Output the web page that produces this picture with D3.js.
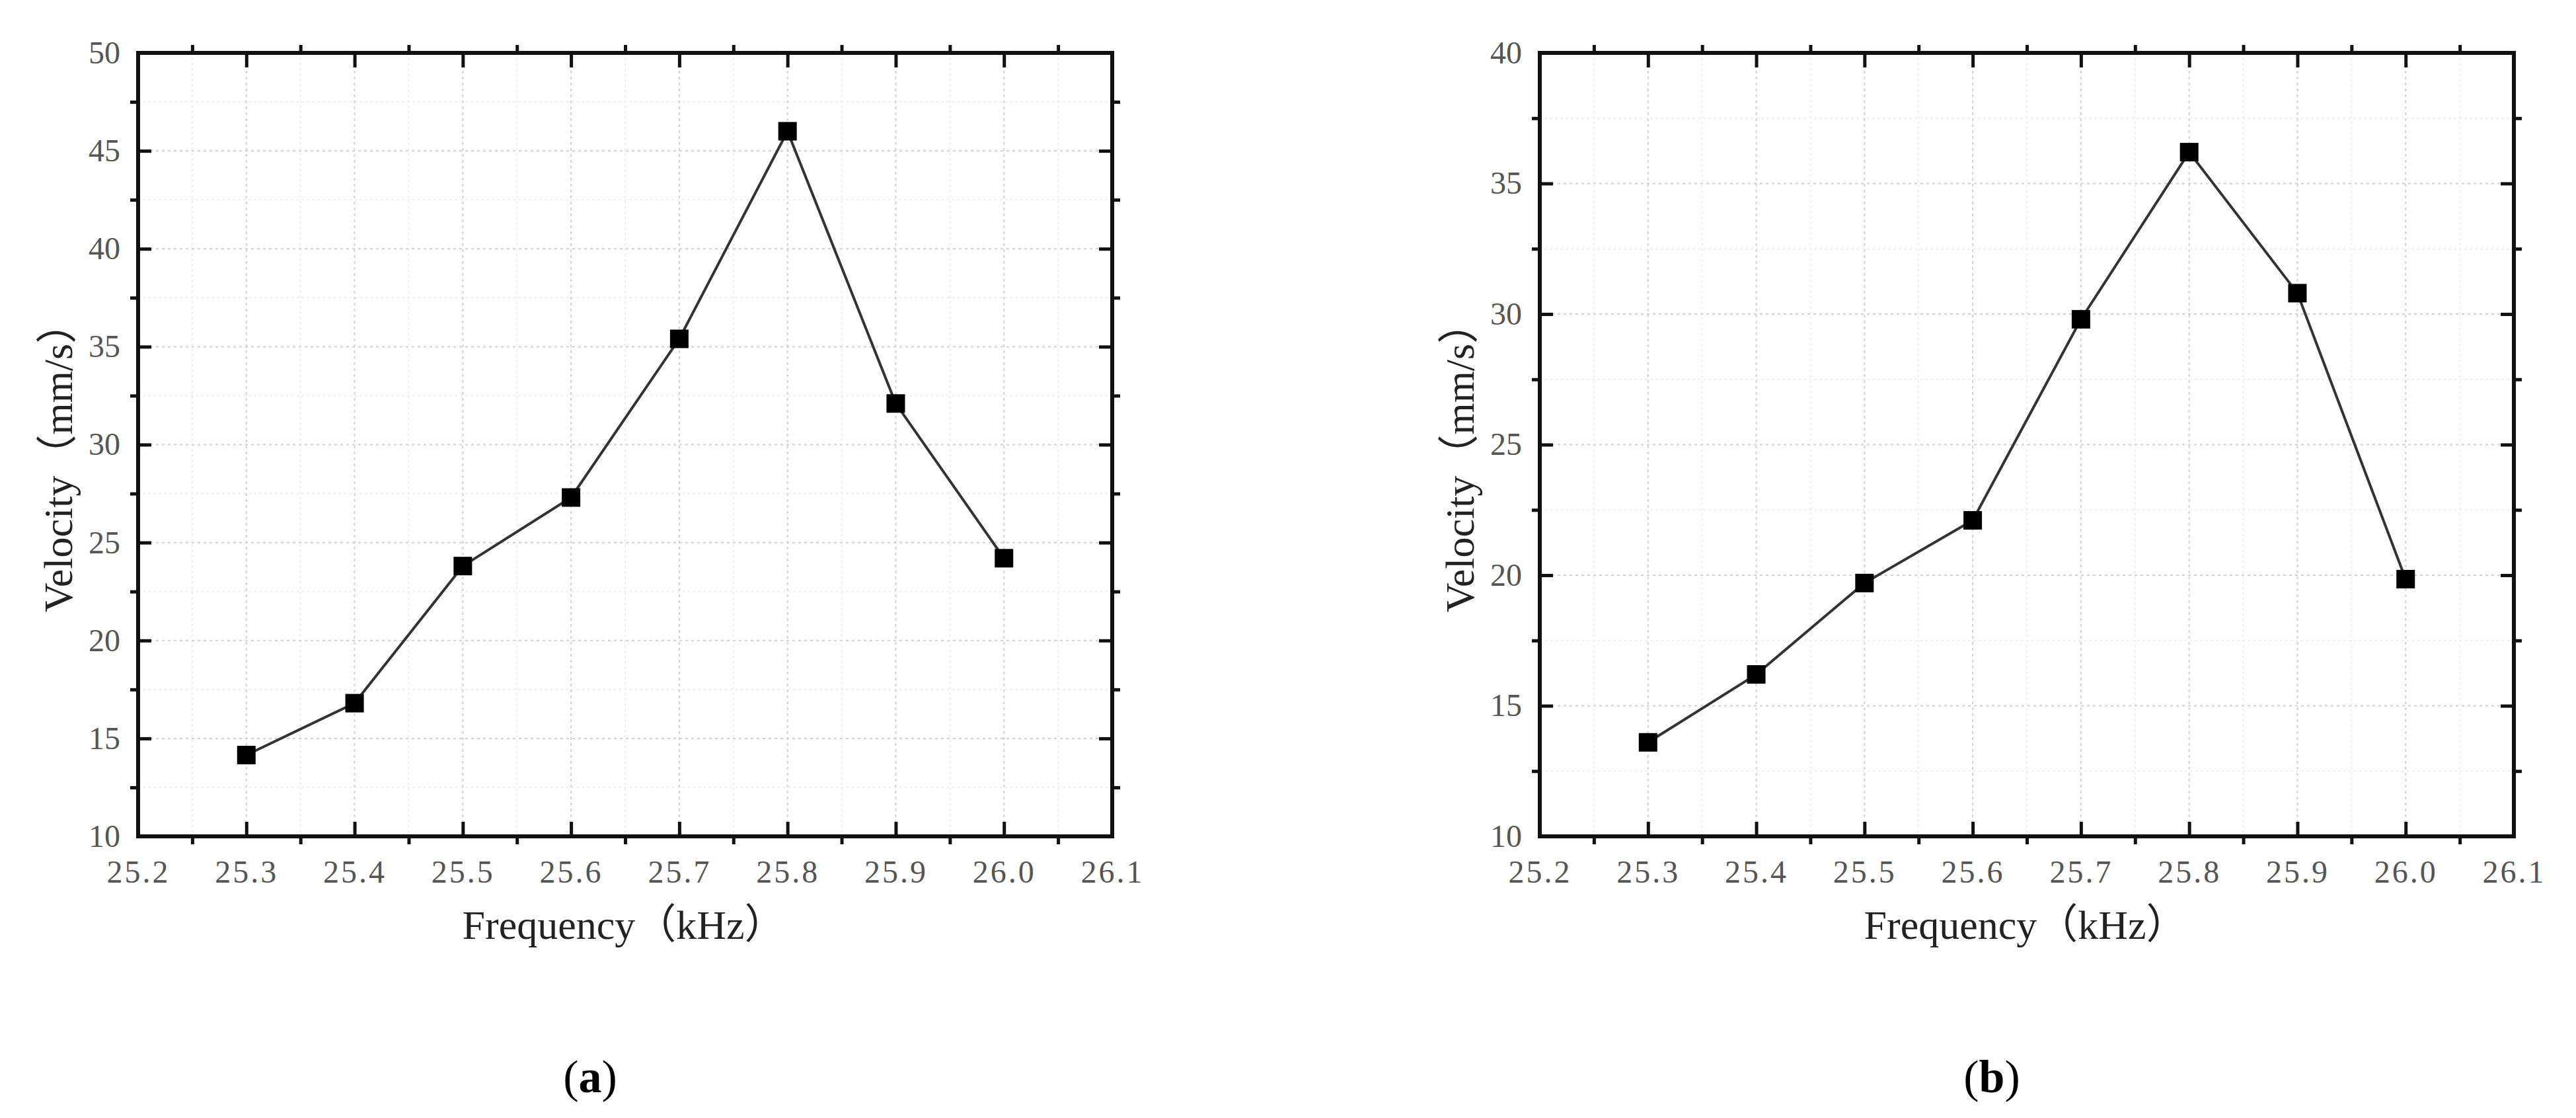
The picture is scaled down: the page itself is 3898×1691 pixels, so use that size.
<!DOCTYPE html>
<html>
<head>
<meta charset="utf-8">
<script src="https://cdn.jsdelivr.net/npm/d3@7"></script>
<style>
body { margin: 0; background: #fff; }
.tick text { font-family: "Liberation Serif", "DejaVu Serif", serif; fill: #555; }
</style>
</head>
<body>
<div id="chart-area"></div>
<script>
// frequencies (kHz) and measured velocities (mm/s)
var freqs = [25.3, 25.4, 25.5, 25.6, 25.7, 25.8, 25.9, 26.0];
var velocityA = [14.15, 16.8, 23.8, 27.3, 35.4, 46.0, 32.1, 24.2];
var velocityB = [13.6, 16.2, 19.7, 22.1, 29.8, 36.2, 30.8, 19.85];

var xTicks = [25.2, 25.3, 25.4, 25.5, 25.6, 25.7, 25.8, 25.9, 26.0, 26.1];
var yTicksA = [10, 15, 20, 25, 30, 35, 40, 45, 50];
var yTicksB = [10, 15, 20, 25, 30, 35, 40];
var xTitle = "Frequency（kHz）";
var yTitle = "Velocity（mm/s）";
var panelLabels = ["a", "b"];

var W = 3898, H = 1691;
var plotW = 1474, plotH = 1185, plotTop = 80;

var svg = d3.select("#chart-area").append("svg")
	.attr("width", W)
	.attr("height", H);

svg.append("rect").attr("width", W).attr("height", H).attr("fill", "#fff");

function drawPanel(left, yTicks, values, label) {
	var g = svg.append("g")
		.attr("transform", "translate(" + left + "," + plotTop + ")");

	var x = d3.scaleLinear().domain([xTicks[0], xTicks[xTicks.length - 1]]).range([0, plotW]);
	var y = d3.scaleLinear().domain([yTicks[0], yTicks[yTicks.length - 1]]).range([plotH, 0]);

	// minor tick positions halfway between majors
	var xMinor = xTicks.slice(0, -1).map((d, i) => (d + xTicks[i + 1]) / 2);
	var yMinor = yTicks.slice(0, -1).map((d, i) => (d + yTicks[i + 1]) / 2);

	// grid
	g.append("g").selectAll("line").data(xMinor).enter().append("line")
		.attr("x1", d => x(d)).attr("x2", d => x(d))
		.attr("y1", 0).attr("y2", plotH)
		.attr("stroke", "#ececec").attr("stroke-width", 2).attr("stroke-dasharray", "3,5");
	g.append("g").selectAll("line").data(yMinor).enter().append("line")
		.attr("x1", 0).attr("x2", plotW)
		.attr("y1", d => y(d)).attr("y2", d => y(d))
		.attr("stroke", "#ececec").attr("stroke-width", 2).attr("stroke-dasharray", "3,5");
	g.append("g").selectAll("line").data(xTicks.slice(1, -1)).enter().append("line")
		.attr("x1", d => x(d)).attr("x2", d => x(d))
		.attr("y1", 0).attr("y2", plotH)
		.attr("stroke", "#d0d0d0").attr("stroke-width", 2).attr("stroke-dasharray", "4,5");
	g.append("g").selectAll("line").data(yTicks.slice(1, -1)).enter().append("line")
		.attr("x1", 0).attr("x2", plotW)
		.attr("y1", d => y(d)).attr("y2", d => y(d))
		.attr("stroke", "#d0d0d0").attr("stroke-width", 2).attr("stroke-dasharray", "4,5");

	// axes: major ticks inside, minor ticks outside
	var noDomain = sel => sel.select(".domain").remove();

	g.append("g").attr("transform", "translate(0," + plotH + ")")
		.call(d3.axisBottom(x).tickValues(xTicks).tickSize(-22).tickPadding(36).tickFormat(d3.format(".1f")))
		.call(noDomain)
		.selectAll("text").attr("font-size", "48px").attr("letter-spacing", "3px");
	g.append("g").attr("transform", "translate(0," + plotH + ")")
		.call(d3.axisBottom(x).tickValues(xMinor).tickSize(12).tickFormat(""))
		.call(noDomain);
	g.append("g")
		.call(d3.axisTop(x).tickValues(xTicks).tickSize(-22).tickFormat(""))
		.call(noDomain);
	g.append("g")
		.call(d3.axisTop(x).tickValues(xMinor).tickSize(12).tickFormat(""))
		.call(noDomain);
	g.append("g")
		.call(d3.axisLeft(y).tickValues(yTicks).tickSize(-20).tickPadding(27))
		.call(noDomain)
		.selectAll("text").attr("font-size", "48px");
	g.append("g")
		.call(d3.axisLeft(y).tickValues(yMinor).tickSize(12).tickFormat(""))
		.call(noDomain);
	g.append("g").attr("transform", "translate(" + plotW + ",0)")
		.call(d3.axisRight(y).tickValues(yTicks).tickSize(-20).tickFormat(""))
		.call(noDomain);
	g.append("g").attr("transform", "translate(" + plotW + ",0)")
		.call(d3.axisRight(y).tickValues(yMinor).tickSize(12).tickFormat(""))
		.call(noDomain);

	g.selectAll(".tick line").attr("stroke", "#111").attr("stroke-width", 5);

	g.append("rect")
		.attr("width", plotW).attr("height", plotH)
		.attr("fill", "none").attr("stroke", "#111").attr("stroke-width", 6);

	// data
	var pts = freqs.map((f, i) => ({f: f, v: values[i]}));
	var line = d3.line().x(d => x(d.f)).y(d => y(d.v));
	g.append("path").datum(pts)
		.attr("d", line)
		.attr("fill", "none").attr("stroke", "#333").attr("stroke-width", 4);
	g.selectAll(".marker").data(pts).enter().append("rect")
		.attr("class", "marker")
		.attr("x", d => x(d.f) - 14).attr("y", d => y(d.v) - 14)
		.attr("width", 28).attr("height", 28)
		.attr("fill", "#000");

	// titles
	g.append("text")
		.attr("x", plotW / 2 - 2)
		.attr("y", 1340)
		.attr("text-anchor", "middle")
		.attr("font-family", "'Liberation Serif', 'Noto Sans CJK SC', serif")
		.attr("font-size", "62px")
		.attr("fill", "#222")
		.text(xTitle);
	g.append("text")
		.attr("transform", "rotate(-90)")
		.attr("x", -612)
		.attr("y", -100)
		.attr("text-anchor", "middle")
		.attr("font-family", "'Liberation Serif', 'Noto Sans CJK SC', serif")
		.attr("font-size", "62px")
		.attr("fill", "#222")
		.text(yTitle);

	var lab = g.append("text")
		.attr("x", plotW / 2 - 53)
		.attr("y", 1572)
		.attr("text-anchor", "middle")
		.attr("font-family", "'Liberation Serif', serif")
		.attr("font-size", "70px")
		.attr("fill", "#000");
	lab.append("tspan").text("(");
	lab.append("tspan").attr("font-weight", "bold").text(label);
	lab.append("tspan").text(")");
}

drawPanel(209, yTicksA, velocityA, panelLabels[0]);
drawPanel(2330, yTicksB, velocityB, panelLabels[1]);
</script>
</body>
</html>
